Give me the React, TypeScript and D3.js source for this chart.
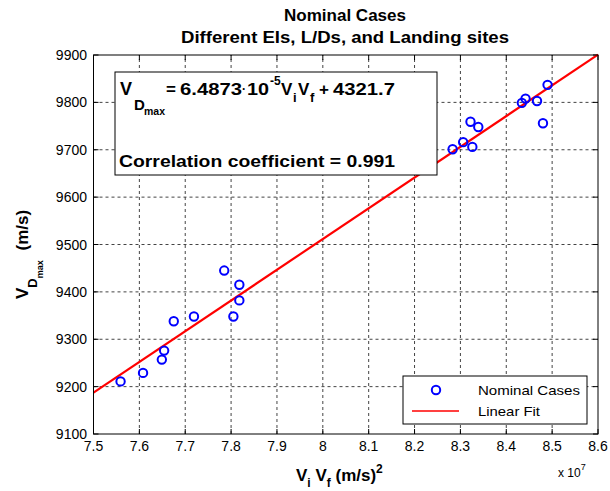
import React from "react";
import * as d3 from "d3";

const xVals = [7.559, 7.608, 7.654, 7.649, 7.675, 7.719, 7.785, 7.818, 7.818, 7.805, 8.283, 8.306, 8.326, 8.322, 8.339, 8.434, 8.442, 8.467, 8.48, 8.49];
const yVals = [9211, 9229, 9276, 9257, 9338, 9348, 9445, 9415, 9382, 9348, 9701, 9716, 9706, 9759, 9748, 9799, 9808, 9803, 9756, 9837];
const xTicks = [7.5, 7.6, 7.7, 7.8, 7.9, 8, 8.1, 8.2, 8.3, 8.4, 8.5, 8.6];
const yTicks = [9100, 9200, 9300, 9400, 9500, 9600, 9700, 9800, 9900];
const slope = 6.4873e-5;
const intercept = 4321.7;

const FONT = "'Liberation Sans', Arial, Helvetica, sans-serif";

export default function App() {
  const W = 610, H = 491;
  const x = d3.scaleLinear().domain([7.5, 8.6]).range([93.5, 598]);
  const y = d3.scaleLinear().domain([9100, 9900]).range([434, 55]);
  const [x0, x1] = x.range();
  const [yb, yt] = y.range();
  const fit = (v: number) => slope * v * 1e7 + intercept;
  const line = d3.line<number>().x((d) => x(d)).y((d) => y(fit(d)));
  const gridColor = "#444";
  const sa = "spacingAndGlyphs";
  return (
    <svg width={W} height={H} style={{ position: "absolute", left: 0, top: 0, background: "#fff" }} fontFamily={FONT}>
      <rect x={0} y={0} width={W} height={H} fill="#fff" />
      {/* grid */}
      {xTicks.slice(1, -1).map((t) => (
        <line key={"gx" + t} x1={x(t)} x2={x(t)} y1={yb} y2={yt} stroke={gridColor} strokeWidth={1} strokeDasharray="3,3" />
      ))}
      {yTicks.slice(1, -1).map((t) => (
        <line key={"gy" + t} x1={x0} x2={x1} y1={y(t)} y2={y(t)} stroke={gridColor} strokeWidth={1} strokeDasharray="3,3" />
      ))}
      {/* ticks */}
      {xTicks.map((t) => (
        <g key={"tx" + t}>
          <line x1={x(t)} x2={x(t)} y1={yb} y2={yb - 5} stroke="#000" />
          <line x1={x(t)} x2={x(t)} y1={yt} y2={yt + 5} stroke="#000" />
          <text x={x(t)} y={451} fontSize={14} textAnchor="middle">{String(t)}</text>
        </g>
      ))}
      {yTicks.map((t) => (
        <g key={"ty" + t}>
          <line x1={x0} x2={x0 + 5} y1={y(t)} y2={y(t)} stroke="#000" />
          <line x1={x1} x2={x1 - 5} y1={y(t)} y2={y(t)} stroke="#000" />
          <text x={87} y={y(t) + 5} fontSize={14} textAnchor="end">{t}</text>
        </g>
      ))}
      {/* fit line */}
      <path d={line([7.5, 8.6]) || ""} stroke="#ff0000" strokeWidth={2.2} fill="none" />
      {/* points */}
      {xVals.map((v, i) => (
        <circle key={"p" + i} cx={x(v)} cy={y(yVals[i])} r={4.2} fill="none" stroke="#0000ff" strokeWidth={2} />
      ))}
      {/* frame */}
      <rect x={x0} y={yt} width={x1 - x0} height={yb - yt} fill="none" stroke="#000" strokeWidth={1} />
      {/* annotation */}
      <rect x={115} y={72} width={322} height={103} fill="#fff" stroke="#000" strokeWidth={1} />
      <g fontWeight="bold">
        <text x={120} y={95} fontSize={18}>V</text>
        <text x={134} y={110} fontSize={15}>D</text>
        <text x={144} y={115} fontSize={10} textLength={21} lengthAdjust={sa}>max</text>
        <text x={166} y={95} fontSize={17}>=</text>
        <text x={180} y={95} fontSize={17} textLength={62} lengthAdjust={sa}>6.4873</text>
        <text x={242} y={93} fontSize={12}>·</text>
        <text x={247} y={95} fontSize={17} textLength={22} lengthAdjust={sa}>10</text>
        <text x={270} y={85} fontSize={12}>-5</text>
        <text x={281} y={95} fontSize={17}>V</text>
        <text x={293} y={102} fontSize={13}>i</text>
        <text x={298} y={95} fontSize={17}>V</text>
        <text x={310} y={102} fontSize={13}>f</text>
        <text x={319} y={95} fontSize={17}>+</text>
        <text x={333} y={95} fontSize={17} textLength={62} lengthAdjust={sa}>4321.7</text>
        <text x={119} y={167} fontSize={17} textLength={276} lengthAdjust={sa}>Correlation coefficient = 0.991</text>
      </g>
      {/* legend */}
      <rect x={403} y={376} width={184} height={48} fill="#fff" stroke="#000" strokeWidth={1} />
      <circle cx={436} cy={390} r={4.2} fill="none" stroke="#0000ff" strokeWidth={2} />
      <line x1={412} x2={459} y1={411} y2={411} stroke="#ff0000" strokeWidth={1.5} />
      <text x={478} y={395} fontSize={13} textLength={102} lengthAdjust={sa}>Nominal Cases</text>
      <text x={478} y={416} fontSize={13} textLength={62} lengthAdjust={sa}>Linear Fit</text>
      {/* titles */}
      <text x={284} y={21} fontSize={16} fontWeight="bold" textLength={122} lengthAdjust={sa}>Nominal Cases</text>
      <text x={181} y={43} fontSize={16} fontWeight="bold" textLength={328} lengthAdjust={sa}>Different EIs, L/Ds, and Landing sites</text>
      {/* x label */}
      <text x={296} y={481} fontSize={17} fontWeight="bold">
        V<tspan fontSize={12} dy={6}>i</tspan>
        <tspan dy={-6}> V</tspan>
        <tspan fontSize={12} dy={6}>f</tspan>
        <tspan dy={-6}> (m/s)</tspan>
        <tspan fontSize={12} dy={-8}>2</tspan>
      </text>
      <text x={558} y={477} fontSize={12}>
        x 10<tspan fontSize={9} dy={-7}>7</tspan>
      </text>
      {/* y label */}
      <g transform="translate(28,299) rotate(-90)">
        <text x={0} y={0} fontSize={17} fontWeight="bold">
          V<tspan fontSize={13} dy={9}>D</tspan>
          <tspan fontSize={9} dy={6}>max</tspan>
          <tspan dy={-15} dx={5}> (m/s)</tspan>
        </text>
      </g>
    </svg>
  );
}
